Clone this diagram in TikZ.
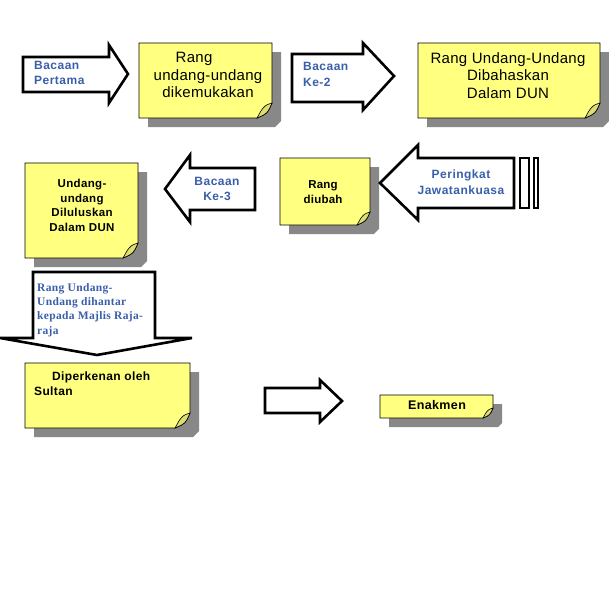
\documentclass[tikz,border=0pt]{standalone}
\usepackage{fontspec}
\setmainfont{Liberation Sans}
\newfontfamily\tnrfont{Liberation Serif}
\definecolor{noteyellow}{RGB}{255,255,128}
\definecolor{foldyellow}{RGB}{222,222,110}
\definecolor{shadowgray}{RGB}{136,136,136}
\definecolor{lblue}{RGB}{58,95,170}
\newcommand\stickynote[5]{%
  \fill[shadowgray] (#1+9,#2+9) -- (#3+9,#2+9) -- (#3+9,#4+9-0.4*#5) -- (#3+9-0.4*#5,#4+9) -- (#1+9,#4+9) -- cycle;
  \filldraw[notebody] (#1,#2) -- (#3,#2) -- (#3,#4-#5) .. controls (#3-0.3*#5,#4-0.3*#5) .. (#3-#5,#4) -- (#1,#4) -- cycle;
  \filldraw[noteflap] (#3-#5,#4) -- (#3-0.72*#5,#4-0.5*#5) .. controls (#3-0.45*#5,#4-0.85*#5) .. (#3,#4-#5) .. controls (#3-0.3*#5,#4-0.3*#5) .. (#3-#5,#4) -- cycle;
}
\newcommand\blockarrow[8]{%
  \filldraw[arrowbody] (#1,#2) -- (#4,#2) -- (#4,#5) -- (#7,#8) -- (#4,#6) -- (#4,#3) -- (#1,#3) -- cycle;
}
\begin{document}
\begin{tikzpicture}[x=1pt,y=-1pt,
  notebody/.style={fill=noteyellow,draw=black,line width=0.8pt},
  noteflap/.style={fill=foldyellow,draw=black,line width=0.6pt},
  arrowbody/.style={draw=black,fill=white,line width=2.6pt,line join=miter},
  barbody/.style={draw=black,fill=white,line width=2pt},
  lbl/.style={text=lblue,font=\bfseries\fontsize{12}{15.5}\selectfont\addfontfeature{LetterSpace=4},inner sep=0pt},
  bigtxt/.style={text=black,font=\fontsize{15}{17.5}\selectfont\addfontfeature{LetterSpace=2},inner sep=0pt,align=center},
  boldtxt/.style={text=black,font=\bfseries\fontsize{11.5}{14.5}\selectfont\addfontfeature{LetterSpace=3},inner sep=0pt},
  serlbl/.style={text=lblue,font=\tnrfont\bfseries\fontsize{11.5}{14.3}\selectfont\addfontfeature{LetterSpace=3},inner sep=0pt,align=left}]
\useasboundingbox[fill=white] (0,0) rectangle (609,613);

% row 1
\blockarrow{23}{57}{92}{109}{45}{103}{128}{74}
\node[lbl,anchor=north west,align=left] (bacaan1) at (34,61) {Bacaan\\Pertama};

\stickynote{139}{43}{272}{118}{15}
\node[bigtxt,anchor=north] (rang1) at (208,52) {Rang\hspace*{28pt}\\undang-undang\\dikemukakan};

\blockarrow{292}{54}{102}{363}{43}{110}{394}{76}
\node[lbl,anchor=north west,align=left,font=\bfseries\fontsize{12}{16.5}\selectfont\addfontfeature{LetterSpace=4}] (bacaan2) at (303,62) {Bacaan\\Ke-2};

\stickynote{418}{43}{600}{118}{15}
\node[bigtxt,anchor=north] (rang2) at (508,52) {Rang Undang-Undang\\Dibahaskan\\Dalam DUN};

% row 2
\stickynote{25}{163}{138}{258}{15}
\node[boldtxt,anchor=north,align=center] (lulus) at (82,179) {Undang-\\undang\\Diluluskan\\Dalam DUN};

\blockarrow{255}{168}{210}{190}{155}{222}{165}{189}
\node[lbl,anchor=north,align=center] (bacaan3) at (217,177) {Bacaan\\Ke-3};

\stickynote{280}{158}{370}{225}{13}
\node[boldtxt,anchor=north,align=center,font=\bfseries\fontsize{11.5}{15.5}\selectfont\addfontfeature{LetterSpace=2}] (diubah) at (323,180) {Rang\\diubah};

\blockarrow{514}{158}{208}{418}{145}{220}{380}{183}
\filldraw[barbody] (520,158) rectangle (529,208);
\filldraw[barbody] (534,158) rectangle (538,208);
\node[lbl,anchor=north,align=center,font=\bfseries\fontsize{12}{16}\selectfont\addfontfeature{LetterSpace=4}] (jawatan) at (461,170) {Peringkat\\Jawatankuasa};

% down arrow
\filldraw[arrowbody] (33,272) -- (155,272) -- (155,338) -- (192,338) -- (97,355) -- (0,338) -- (33,338) -- cycle;
\node[serlbl,anchor=north west] (hantar) at (37,283) {Rang Undang-\\Undang dihantar\\kepada Majlis Raja-\\raja};

% row 3
\stickynote{25}{363}{190}{428}{15}
\node[boldtxt,anchor=north west,align=left,font=\bfseries\fontsize{12}{14.5}\selectfont\addfontfeature{LetterSpace=3}] (sultan) at (34,372) {\hspace*{18pt}Diperkenan oleh\\Sultan};

\blockarrow{265}{388}{413}{320}{380}{422}{342}{401}

\stickynote{380}{395}{493}{418}{10}
\node[boldtxt,anchor=north,align=center,font=\bfseries\fontsize{12.5}{14.5}\selectfont\addfontfeature{LetterSpace=3}] (enakmen) at (437,400) {Enakmen};
\end{tikzpicture}
\end{document}
